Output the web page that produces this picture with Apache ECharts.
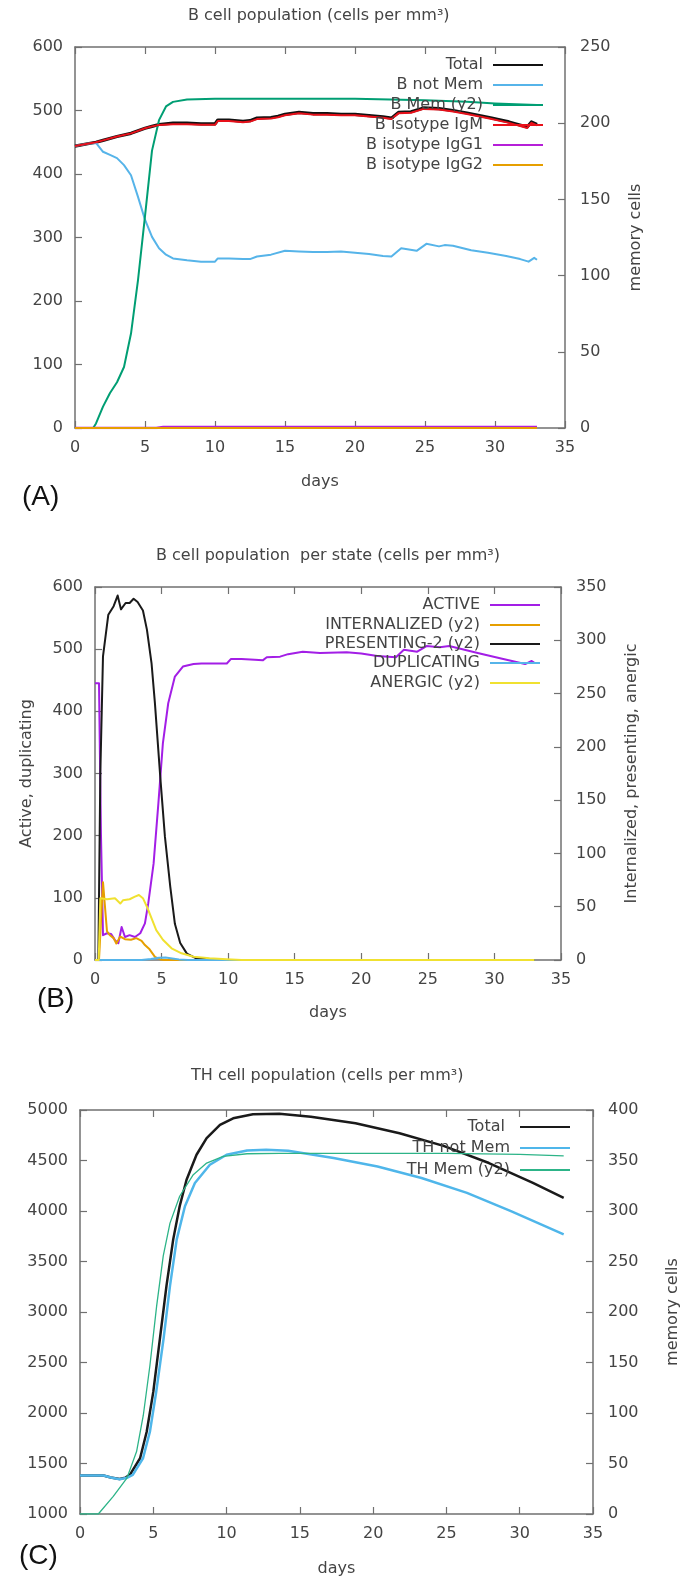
<!DOCTYPE html>
<html>
<head>
<meta charset="utf-8">
<script src="https://cdn.jsdelivr.net/npm/echarts@6/dist/echarts.min.js"></script>
<style>
  html, body { margin: 0; padding: 0; background: #fff; }
  #chart { width: 694px; height: 1578px; }
</style>
</head>
<body>
<div id="chart"></div>
<script>
// ---------- Panel A: B cell population (pairs of [day, value]) ----------
const aTotal = [[0,444],[1,448],[1.5,450],[2,453],[3,459],[4,464],[4.5,468],[5,472],[5.5,475],[6,478],[7,480],[8,480],[9,479],[10,479],[10.2,485],[11,485],[12,483],[12.5,484],[13,488],[14,489],[14.5,491],[15,494],[16,497],[17,495],[18,495],[19,494],[20,494],[21,492],[22,490],[22.6,488],[23.1,497],[24,498],[24.9,504],[26,503],[27,500],[28,496],[29.6,489],[31,482],[32.3,474],[32.6,482],[33,478]];
const aNotMem = [[0,444],[1,448],[1.5,449],[2,435],[2.5,430],[3,425],[3.5,414],[4,398],[4.5,364],[5,328],[5.5,301],[6,283],[6.5,273],[7,267],[8,264],[9,262],[10,262],[10.2,267],[11,267],[12,266],[12.5,266],[13,270],[14,273],[15,279],[16,278],[17,277],[18,277],[19,278],[20,276],[21,274],[22,271],[22.6,270],[23.3,283],[24.4,279],[25.1,290],[26,286],[26.4,288],[27,287],[28.3,280],[29.5,276],[30.8,271],[31.8,266],[32.4,262],[32.8,268],[33,265]];
const aMem = [[0,0],[1.3,0],[1.5,3],[2,14],[2.5,23],[3,30],[3.5,40],[4,62],[4.5,97],[5,139],[5.5,182],[6,202],[6.5,211],[7,214],[8,215.5],[10,216],[20,216],[25,215],[28,214],[30,213],[33,212]];
const aIgM = [[0,444],[1,448],[1.5,450],[2,453],[3,459],[4,464],[4.5,468],[5,472],[5.5,475],[6,477],[7,478.5],[8,478.5],[9,477.5],[10,477.5],[10.2,483.5],[11,483.5],[12,481.5],[12.5,482.5],[13,486.5],[14,487.5],[14.5,489.5],[15,492.5],[16,495.5],[17,493.5],[18,493.5],[19,492.5],[20,492.5],[21,490.5],[22,488.5],[22.6,486.5],[23.1,495.5],[24,496.5],[24.9,502.5],[26,501.5],[27,498.5],[28,494.5],[29.6,487.5],[31,480.5],[32.3,472.5],[32.6,480.5],[33,476.5]];
const aIgG1 = [[0,0],[5.8,0],[6.3,1.5],[33,1.5]];
const aIgG2 = [[0,0],[33,0]];

// ---------- Panel B: B cell population per state ----------
const bActive = [[0,445],[0.3,445],[0.45,200],[0.6,40],[0.9,43],[1.2,42],[1.5,32],[1.75,27],[2.0,53],[2.25,37],[2.6,40],[3.0,37],[3.4,43],[3.75,59],[4.0,91],[4.4,155],[4.76,252],[5.1,349],[5.5,413],[6.0,456],[6.6,472],[7.4,476],[8,477],[9,477],[9.9,477],[10.2,484],[11,484],[12,483],[12.6,482],[12.9,487],[13.9,488],[14.5,492],[15.6,496],[16.9,494],[18.9,495],[20,493],[21.2,489],[22.6,487],[23.2,499],[24.2,496],[24.9,505],[25.9,503],[26.6,505],[28.9,493],[30.5,485],[32.3,476],[32.8,481],[33,478]];
const bInternalized = [[0,0],[0.3,0],[0.6,73],[0.9,27],[1.1,23.5],[1.4,20.5],[1.6,15.5],[1.9,22],[2.25,19.5],[2.7,19],[3.1,20.5],[3.5,18],[3.75,14],[4.1,10],[4.5,3],[4.9,0.5],[5.2,0],[33,0]];
const bPresenting = [[0,0],[0.25,0],[0.4,175],[0.6,285],[1.0,324],[1.4,332],[1.7,342],[1.95,329],[2.3,335],[2.6,335],[2.9,339],[3.2,336],[3.6,328],[3.9,310],[4.25,278],[4.5,241],[4.9,172],[5.25,116],[5.65,69],[6.0,34],[6.4,16],[6.9,6],[7.6,1.6],[9,0],[33,0]];
const bDuplicating = [[0,0],[3.5,0],[4.2,1.5],[4.8,3.5],[5.3,4],[5.8,2.5],[6.3,1],[7,0],[33,0]];
const bAnergic = [[0,0],[0.28,0],[0.4,58],[0.9,57],[1.5,58],[1.9,53],[2.1,56],[2.6,57],[3.0,59.5],[3.3,61],[3.6,58],[3.9,50],[4.25,39],[4.6,28],[5.1,19],[5.75,11],[6.5,6.3],[7.4,3.1],[8.6,1.6],[9.9,0.6],[11,0],[33,0]];

// ---------- Panel C: TH cell population ----------
const cTotal = [[0,1381],[1.6,1381],[2.1,1362],[2.7,1346],[3.1,1360],[3.4,1387],[4.1,1552],[4.55,1815],[5.0,2209],[5.45,2734],[5.9,3259],[6.36,3719],[6.8,4047],[7.27,4310],[7.95,4557],[8.64,4721],[9.55,4852],[10.45,4918],[11.8,4958],[13.6,4963],[15.75,4934],[18.8,4869],[21.8,4770],[24.8,4645],[27.9,4475],[30.9,4278],[33,4130]];
const cNotMem = [[0,1381],[1.6,1381],[2.1,1362],[2.7,1344],[3.2,1358],[3.6,1387],[4.3,1552],[4.77,1815],[5.2,2209],[5.7,2734],[6.14,3259],[6.6,3719],[7.16,4047],[7.84,4278],[8.86,4458],[10,4557],[11.4,4599],[12.7,4606],[14.2,4596],[17.3,4524],[20.3,4441],[23.3,4327],[26.4,4179],[29.4,3998],[33,3768]];
const cMem = [[0,0],[1.25,0],[2.27,17.4],[3.2,35.5],[3.86,61.8],[4.32,97.8],[4.77,147],[5.23,206],[5.68,255.5],[6.14,288],[6.8,314.6],[7.73,336],[8.64,347.5],[9.77,354],[11.4,356.7],[13.6,357],[25,357],[30,356],[33,354.5]];

// ---------- tick settings ----------
const dayTicks = { min: 0, max: 35, interval: 5 };
const aLeftTicks = { min: 0, max: 600, interval: 100 };
const aRightTicks = { min: 0, max: 250, interval: 50 };
const bLeftTicks = { min: 0, max: 600, interval: 100 };
const bRightTicks = { min: 0, max: 350, interval: 50 };
const cLeftTicks = { min: 1000, max: 5000, interval: 500 };
const cRightTicks = { min: 0, max: 400, interval: 50 };

const FONT = 'DejaVu Sans';
const TXT = '#444';
const FRAME = '#707070';

const frameLine = { show: true, onZero: false, lineStyle: { color: FRAME, width: 1.5 } };
const tickIn = { show: true, inside: true, length: 7, lineStyle: { color: FRAME, width: 1.2 } };
const plainNumber = v => String(v);
const labelStyle = { fontSize: 16, color: TXT, fontFamily: FONT, formatter: plainNumber };

function xBottom(grid, gap) {
  return Object.assign({
    type: 'value', gridIndex: grid, position: 'bottom',
    name: 'days', nameLocation: 'middle', nameGap: gap,
    nameTextStyle: { fontSize: 16, color: TXT, fontFamily: FONT },
    axisLine: frameLine, axisTick: tickIn,
    axisLabel: Object.assign({ margin: 12 }, labelStyle),
    splitLine: { show: false }
  }, dayTicks);
}
function xTop(grid) {
  return Object.assign({
    type: 'value', gridIndex: grid, position: 'top',
    axisLine: frameLine, axisTick: tickIn,
    axisLabel: { show: false }, splitLine: { show: false }
  }, dayTicks);
}
function yAxis(grid, pos, ticks, name, gap) {
  const ax = Object.assign({
    type: 'value', gridIndex: grid, position: pos,
    axisLine: frameLine, axisTick: tickIn,
    axisLabel: Object.assign({ margin: pos === 'left' ? 12 : 15 }, labelStyle),
    splitLine: { show: false }
  }, ticks);
  if (name) {
    ax.name = name;
    ax.nameLocation = 'middle';
    ax.nameRotate = 90;
    ax.nameGap = gap;
    ax.nameTextStyle = { fontSize: 16, color: TXT, fontFamily: FONT };
  }
  return ax;
}

function line(name, data, color, xi, yi, width) {
  return {
    type: 'line', name: name, data: data, color: color,
    xAxisIndex: xi, yAxisIndex: yi,
    showSymbol: false, symbol: 'none', smooth: false,
    lineStyle: { color: color, width: width || 2, join: 'round' },
    emphasis: { disabled: true }
  };
}

function legendItem(name, right, centerY) {
  return {
    data: [{ name: name, icon: 'rect' }],
    orient: 'vertical', align: 'right',
    right: right, top: centerY - 10,
    padding: 0, itemWidth: 50, itemHeight: 2,
    selectedMode: false,
    textStyle: { fontSize: 16, color: TXT, fontFamily: FONT, lineHeight: 20, padding: [0, 5, 0, 0] }
  };
}

const igG1 = line('B isotype IgG1', aIgG1, '#b61fd8', 0, 0, 2.5);
igG1.z = 3;

const option = {
  animation: false,
  backgroundColor: '#fff',
  textStyle: { fontFamily: FONT },
  title: [
    { text: 'B cell population (cells per mm³)', left: 188, top: 8, padding: 0,
      textStyle: { fontSize: 16, fontWeight: 'normal', color: TXT, fontFamily: FONT } },
    { text: 'B cell population  per state (cells per mm³)', left: 156, top: 548, padding: 0,
      textStyle: { fontSize: 16, fontWeight: 'normal', color: TXT, fontFamily: FONT } },
    { text: 'TH cell population (cells per mm³)', left: 191, top: 1068, padding: 0,
      textStyle: { fontSize: 16, fontWeight: 'normal', color: TXT, fontFamily: FONT } }
  ],
  grid: [
    { left: 75, top: 47, width: 490, height: 381 },
    { left: 95, top: 587, width: 466, height: 373 },
    { left: 80, top: 1110, width: 513, height: 406 }
  ],
  xAxis: [xBottom(0, 46), xTop(0), xBottom(1, 45), xTop(1), xBottom(2, 47), xTop(2)],
  yAxis: [
    yAxis(0, 'left', aLeftTicks),
    yAxis(0, 'right', aRightTicks, 'memory cells', 63),
    yAxis(1, 'left', bLeftTicks, 'Active, duplicating', 60),
    yAxis(1, 'right', bRightTicks, 'Internalized, presenting, anergic', 63),
    yAxis(2, 'left', cLeftTicks),
    yAxis(2, 'right', cRightTicks, 'memory cells', 72)
  ],
  legend: [
    legendItem('Total', 151, 65),
    legendItem('B not Mem', 151, 85),
    legendItem('B Mem (y2)', 151, 105),
    legendItem('B isotype IgM', 151, 125),
    legendItem('B isotype IgG1', 151, 145),
    legendItem('B isotype IgG2', 151, 165),
    legendItem('ACTIVE', 154, 605),
    legendItem('INTERNALIZED (y2)', 154, 625),
    legendItem('PRESENTING-2 (y2)', 154, 644),
    legendItem('DUPLICATING', 154, 663),
    legendItem('ANERGIC (y2)', 154, 683),
    legendItem('Total ', 124, 1127),
    legendItem('TH not Mem', 124, 1148),
    legendItem('TH Mem (y2)', 124, 1170)
  ],
  series: [
    line('Total', aTotal, '#111111', 0, 0, 3.2),
    line('B not Mem', aNotMem, '#56b4e9', 0, 0, 2),
    line('B Mem (y2)', aMem, '#009e73', 0, 1, 2),
    line('B isotype IgM', aIgM, '#e8101a', 0, 0, 2),
    igG1,
    line('B isotype IgG2', aIgG2, '#e69f00', 0, 0, 2),

    line('ACTIVE', bActive, '#a31ee6', 2, 2, 2),
    line('INTERNALIZED (y2)', bInternalized, '#e69f00', 2, 3, 2),
    line('PRESENTING-2 (y2)', bPresenting, '#1a1a1a', 2, 3, 2),
    line('DUPLICATING', bDuplicating, '#56b4e9', 2, 2, 2),
    line('ANERGIC (y2)', bAnergic, '#f0e130', 2, 3, 2),

    line('Total ', cTotal, '#1a1a1a', 4, 4, 2.5),
    line('TH not Mem', cNotMem, '#4fb6ea', 4, 4, 2.5),
    line('TH Mem (y2)', cMem, '#2db488', 4, 5, 1.3)
  ],
  graphic: [
    { type: 'text', left: 22, top: 483, style: { text: '(A)', font: '28px "Liberation Sans"', fill: '#111' } },
    { type: 'text', left: 37, top: 985, style: { text: '(B)', font: '28px "Liberation Sans"', fill: '#111' } },
    { type: 'text', left: 19, top: 1542, style: { text: '(C)', font: '28px "Liberation Sans"', fill: '#111' } }
  ]
};

const chart = echarts.init(document.getElementById('chart'), null, { renderer: 'canvas' });
chart.setOption(option);
</script>
</body>
</html>
